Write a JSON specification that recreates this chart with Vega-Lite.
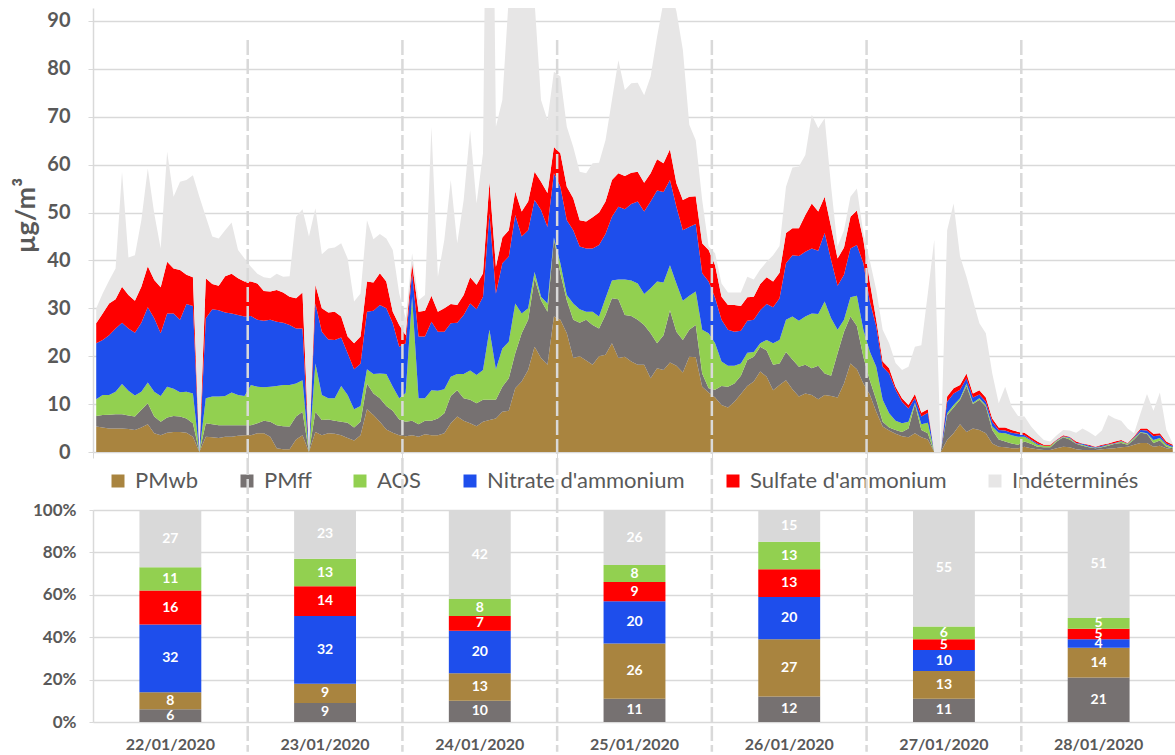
{
"$schema": "https://vega.github.io/schema/vega-lite/v6.json",
"background": "white",
"padding": {"left": 12, "top": 8, "right": 0, "bottom": 0},
"autosize": {"type": "pad"},
"bounds": "flush",
"spacing": 58,
"config": {"font": "Lato", "view": {"stroke": null}},
"datasets": {
"comps": [{"key":"wb","name":"PMwb"},{"key":"ff","name":"PMff"},{"key":"aos","name":"AOS"},{"key":"nit","name":"Nitrate d'ammonium"},{"key":"sul","name":"Sulfate d'ammonium"},{"key":"ind","name":"Indéterminés"}],
"days": [{"h":23.5},{"h":47.5},{"h":71.5},{"h":95.5},{"h":119.5},{"h":143.5}],
"daily": [
{"date":"22/01/2020","ff":6,"wb":8,"nit":32,"sul":16,"aos":11,"ind":27},
{"date":"23/01/2020","ff":9,"wb":9,"nit":32,"sul":14,"aos":13,"ind":23},
{"date":"24/01/2020","ff":10,"wb":13,"nit":20,"sul":7,"aos":8,"ind":42},
{"date":"25/01/2020","ff":11,"wb":26,"nit":20,"sul":9,"aos":8,"ind":26},
{"date":"26/01/2020","ff":12,"wb":27,"nit":20,"sul":13,"aos":13,"ind":15},
{"date":"27/01/2020","ff":11,"wb":13,"nit":10,"sul":5,"aos":6,"ind":55},
{"date":"28/01/2020","ff":21,"wb":14,"nit":4,"sul":5,"aos":5,"ind":51}
],
"hourly": [
{"h":0,"wb":5.3,"ff":2.2,"aos":3.5,"nit":11.7,"sul":4.2,"ind":3.1},
{"h":1,"wb":5.1,"ff":2.6,"aos":4.2,"nit":11.5,"sul":5.5,"ind":4.2},
{"h":2,"wb":4.9,"ff":2.9,"aos":4.1,"nit":12.5,"sul":6.6,"ind":4.8},
{"h":3,"wb":4.9,"ff":3.0,"aos":4.7,"nit":13.2,"sul":6.1,"ind":6.4},
{"h":4,"wb":4.9,"ff":3.0,"aos":6.3,"nit":12.8,"sul":7.5,"ind":24.0},
{"h":5,"wb":4.8,"ff":2.8,"aos":5.2,"nit":13.0,"sul":7.0,"ind":7.8},
{"h":6,"wb":4.6,"ff":2.8,"aos":4.4,"nit":13.1,"sul":6.7,"ind":9.5},
{"h":7,"wb":5.1,"ff":3.7,"aos":3.8,"nit":14.4,"sul":7.5,"ind":13.9},
{"h":8,"wb":5.8,"ff":4.4,"aos":4.3,"nit":15.7,"sul":8.6,"ind":20.4},
{"h":9,"wb":3.9,"ff":3.5,"aos":5.2,"nit":15.3,"sul":8.0,"ind":13.9},
{"h":10,"wb":3.5,"ff":2.8,"aos":5.4,"nit":13.1,"sul":9.6,"ind":8.1},
{"h":11,"wb":4.0,"ff":3.2,"aos":6.4,"nit":15.3,"sul":10.8,"ind":23.0},
{"h":12,"wb":4.2,"ff":3.3,"aos":5.7,"nit":15.7,"sul":9.4,"ind":15.0},
{"h":13,"wb":4.2,"ff":3.2,"aos":5.1,"nit":15.1,"sul":10.4,"ind":18.4},
{"h":14,"wb":4.0,"ff":3.0,"aos":5.6,"nit":18.3,"sul":6.1,"ind":19.8},
{"h":15,"wb":3.2,"ff":2.8,"aos":6.2,"nit":18.3,"sul":6.0,"ind":21.3},
{"h":16,"wb":0,"ff":0,"aos":0,"nit":0,"sul":0,"ind":53.3},
{"h":17,"wb":3.2,"ff":2.8,"aos":5.2,"nit":16.7,"sul":8.4,"ind":12.8},
{"h":18,"wb":3.1,"ff":2.7,"aos":5.8,"nit":18.2,"sul":5.3,"ind":9.9},
{"h":19,"wb":2.9,"ff":2.7,"aos":6.0,"nit":18.0,"sul":5.1,"ind":9.9},
{"h":20,"wb":3.2,"ff":2.4,"aos":6.1,"nit":17.4,"sul":7.6,"ind":9.6},
{"h":21,"wb":3.2,"ff":2.4,"aos":6.8,"nit":16.5,"sul":8.3,"ind":10.7},
{"h":22,"wb":3.4,"ff":2.2,"aos":6.3,"nit":16.7,"sul":7.7,"ind":5.9},
{"h":23,"wb":3.5,"ff":2.1,"aos":6.1,"nit":16.6,"sul":7.3,"ind":4.8},
{"h":24,"wb":3.5,"ff":2.1,"aos":8.4,"nit":14.4,"sul":7.2,"ind":3.1},
{"h":25,"wb":3.9,"ff":2.1,"aos":7.6,"nit":14.0,"sul":7.6,"ind":2.0},
{"h":26,"wb":3.9,"ff":2.6,"aos":7.0,"nit":13.9,"sul":6.2,"ind":2.9},
{"h":27,"wb":3.2,"ff":3.1,"aos":7.3,"nit":14.0,"sul":5.9,"ind":2.8},
{"h":28,"wb":0.8,"ff":4.8,"aos":8.2,"nit":13.4,"sul":6.6,"ind":3.4},
{"h":29,"wb":0.6,"ff":4.8,"aos":8.6,"nit":13.0,"sul":6.3,"ind":3.3},
{"h":30,"wb":0.6,"ff":4.7,"aos":8.7,"nit":12.5,"sul":5.9,"ind":4.3},
{"h":31,"wb":2.6,"ff":4.8,"aos":6.9,"nit":11.5,"sul":6.3,"ind":17.0},
{"h":32,"wb":3.5,"ff":4.9,"aos":6.6,"nit":10.8,"sul":7.5,"ind":17.4},
{"h":33,"wb":0,"ff":0,"aos":0,"nit":0,"sul":0,"ind":45.0},
{"h":34,"wb":4.2,"ff":4.2,"aos":10.1,"nit":12.5,"sul":3.9,"ind":16.0},
{"h":35,"wb":3.5,"ff":3.2,"aos":5.2,"nit":13.2,"sul":4.9,"ind":11.3},
{"h":36,"wb":3.9,"ff":2.9,"aos":4.4,"nit":12.3,"sul":5.6,"ind":13.4},
{"h":37,"wb":3.8,"ff":2.7,"aos":4.7,"nit":12.2,"sul":5.9,"ind":13.4},
{"h":38,"wb":3.5,"ff":2.8,"aos":7.5,"nit":10.1,"sul":4.4,"ind":15.3},
{"h":39,"wb":2.9,"ff":3.2,"aos":5.8,"nit":8.7,"sul":3.5,"ind":16.3},
{"h":40,"wb":2.4,"ff":2.7,"aos":3.8,"nit":8.4,"sul":5.4,"ind":8.7},
{"h":41,"wb":3.5,"ff":2.8,"aos":3.3,"nit":8.8,"sul":5.7,"ind":9.0},
{"h":42,"wb":8.9,"ff":5.4,"aos":3.0,"nit":12.0,"sul":6.3,"ind":12.8},
{"h":43,"wb":7.7,"ff":4.5,"aos":4.1,"nit":13.2,"sul":5.9,"ind":9.0},
{"h":44,"wb":6.3,"ff":4.9,"aos":5.2,"nit":14.3,"sul":6.6,"ind":8.2},
{"h":45,"wb":4.7,"ff":4.9,"aos":6.7,"nit":13.7,"sul":5.6,"ind":9.0},
{"h":46,"wb":4.0,"ff":4.6,"aos":5.0,"nit":13.3,"sul":2.4,"ind":12.9},
{"h":47,"wb":3.5,"ff":3.3,"aos":4.4,"nit":10.8,"sul":4.5,"ind":6.6},
{"h":48,"wb":3.3,"ff":3.0,"aos":6.0,"nit":10.4,"sul":1.7,"ind":3.5},
{"h":49,"wb":3.5,"ff":3.0,"aos":25.9,"nit":4.9,"sul":2.1,"ind":2.1},
{"h":50,"wb":3.2,"ff":2.6,"aos":5.4,"nit":12.9,"sul":5.2,"ind":2.4},
{"h":51,"wb":3.7,"ff":2.8,"aos":4.7,"nit":12.9,"sul":5.4,"ind":3.3},
{"h":52,"wb":3.5,"ff":3.0,"aos":6.4,"nit":14.3,"sul":5.4,"ind":35.3},
{"h":53,"wb":3.5,"ff":3.5,"aos":5.8,"nit":12.3,"sul":4.2,"ind":7.3},
{"h":54,"wb":3.9,"ff":4.2,"aos":5.0,"nit":12.0,"sul":4.9,"ind":14.3},
{"h":55,"wb":6.0,"ff":5.7,"aos":4.0,"nit":11.2,"sul":4.0,"ind":25.9},
{"h":56,"wb":7.4,"ff":5.5,"aos":3.4,"nit":10.7,"sul":3.7,"ind":12.9},
{"h":57,"wb":6.5,"ff":4.7,"aos":5.1,"nit":12.3,"sul":4.2,"ind":19.8},
{"h":58,"wb":6.0,"ff":4.9,"aos":6.1,"nit":14.0,"sul":5.5,"ind":30.7},
{"h":59,"wb":5.4,"ff":4.8,"aos":5.9,"nit":13.7,"sul":5.1,"ind":17.0},
{"h":60,"wb":6.3,"ff":4.6,"aos":6.2,"nit":15.3,"sul":4.9,"ind":25.1},
{"h":61,"wb":6.7,"ff":4.2,"aos":14.6,"nit":24.3,"sul":6.6,"ind":133.6},
{"h":62,"wb":7.0,"ff":3.9,"aos":6.4,"nit":15.8,"sul":5.6,"ind":29.2},
{"h":63,"wb":8.4,"ff":5.2,"aos":8.0,"nit":17.8,"sul":5.4,"ind":28.7},
{"h":64,"wb":8.6,"ff":6.8,"aos":7.6,"nit":17.8,"sul":5.5,"ind":48.7},
{"h":65,"wb":13.3,"ff":7.3,"aos":10.4,"nit":18.5,"sul":4.9,"ind":53.6},
{"h":66,"wb":14.7,"ff":10.1,"aos":4.1,"nit":16.1,"sul":5.2,"ind":61.8},
{"h":67,"wb":17.1,"ff":10.5,"aos":2.4,"nit":16.3,"sul":6.0,"ind":57.7},
{"h":68,"wb":22.0,"ff":14.3,"aos":1.3,"nit":15.0,"sul":5.9,"ind":35.5},
{"h":69,"wb":19.6,"ff":12.1,"aos":0.7,"nit":18.1,"sul":5.9,"ind":17.1},
{"h":70,"wb":18.2,"ff":11.1,"aos":1.7,"nit":16.0,"sul":7.1,"ind":15.2},
{"h":71,"wb":28.3,"ff":16.3,"aos":0.2,"nit":13.4,"sul":5.5,"ind":15.7},
{"h":72,"wb":27.6,"ff":9.7,"aos":2.1,"nit":16.0,"sul":7.0,"ind":16.0},
{"h":73,"wb":24.8,"ff":6.9,"aos":1.1,"nit":15.6,"sul":7.0,"ind":12.5},
{"h":74,"wb":19.6,"ff":8.0,"aos":3.4,"nit":15.3,"sul":6.7,"ind":10.7},
{"h":75,"wb":20.0,"ff":7.0,"aos":2.8,"nit":13.1,"sul":5.5,"ind":10.1},
{"h":76,"wb":19.1,"ff":8.5,"aos":1.7,"nit":13.2,"sul":5.6,"ind":10.1},
{"h":77,"wb":18.2,"ff":8.3,"aos":2.8,"nit":13.2,"sul":6.5,"ind":11.3},
{"h":78,"wb":20.0,"ff":5.8,"aos":2.5,"nit":14.9,"sul":6.8,"ind":10.4},
{"h":79,"wb":20.3,"ff":8.3,"aos":3.5,"nit":13.4,"sul":6.8,"ind":12.8},
{"h":80,"wb":22.7,"ff":9.4,"aos":3.7,"nit":13.3,"sul":7.7,"ind":16.7},
{"h":81,"wb":19.6,"ff":12.3,"aos":4.1,"nit":15.2,"sul":7.0,"ind":23.6},
{"h":82,"wb":19.9,"ff":8.7,"aos":7.4,"nit":14.7,"sul":6.9,"ind":18.0},
{"h":83,"wb":18.9,"ff":9.5,"aos":7.4,"nit":16.0,"sul":6.5,"ind":18.7},
{"h":84,"wb":18.2,"ff":9.4,"aos":7.6,"nit":17.1,"sul":6.2,"ind":18.6},
{"h":85,"wb":18.2,"ff":8.3,"aos":6.5,"nit":17.2,"sul":6.0,"ind":18.3},
{"h":86,"wb":15.4,"ff":9.4,"aos":9.4,"nit":18.1,"sul":5.9,"ind":20.2},
{"h":87,"wb":17.5,"ff":5.2,"aos":12.9,"nit":19.0,"sul":6.5,"ind":25.6},
{"h":88,"wb":17.1,"ff":7.3,"aos":11.0,"nit":18.9,"sul":6.0,"ind":33.7},
{"h":89,"wb":18.7,"ff":10.9,"aos":9.4,"nit":17.8,"sul":6.4,"ind":33.8},
{"h":90,"wb":18.0,"ff":7.1,"aos":10.1,"nit":16.0,"sul":4.9,"ind":35.9},
{"h":91,"wb":16.6,"ff":6.8,"aos":8.2,"nit":14.7,"sul":6.3,"ind":31.4},
{"h":92,"wb":19.9,"ff":5.6,"aos":7.1,"nit":14.4,"sul":6.3,"ind":15.0},
{"h":93,"wb":19.8,"ff":6.7,"aos":7.0,"nit":14.1,"sul":5.8,"ind":11.7},
{"h":94,"wb":13.6,"ff":2.8,"aos":9.1,"nit":11.8,"sul":6.3,"ind":9.0},
{"h":95,"wb":12.4,"ff":0.9,"aos":11.5,"nit":10.8,"sul":6.6,"ind":0.7},
{"h":96,"wb":11.4,"ff":1.6,"aos":9.7,"nit":9.5,"sul":6.8,"ind":2.5},
{"h":97,"wb":9.8,"ff":4.0,"aos":5.1,"nit":8.7,"sul":4.8,"ind":2.8},
{"h":98,"wb":9.3,"ff":4.3,"aos":4.4,"nit":7.5,"sul":5.2,"ind":2.6},
{"h":99,"wb":10.5,"ff":3.8,"aos":3.7,"nit":7.1,"sul":5.6,"ind":2.6},
{"h":100,"wb":12.1,"ff":3.8,"aos":2.6,"nit":6.8,"sul":5.2,"ind":2.8},
{"h":101,"wb":13.8,"ff":5.4,"aos":1.5,"nit":6.7,"sul":4.9,"ind":4.3},
{"h":102,"wb":14.7,"ff":5.2,"aos":1.0,"nit":6.7,"sul":4.8,"ind":3.6},
{"h":103,"wb":16.8,"ff":5.2,"aos":0.7,"nit":6.9,"sul":5.5,"ind":3.0},
{"h":104,"wb":15.7,"ff":5.5,"aos":2.2,"nit":7.5,"sul":5.6,"ind":3.2},
{"h":105,"wb":12.9,"ff":5.3,"aos":4.5,"nit":7.5,"sul":5.4,"ind":5.5},
{"h":106,"wb":14.0,"ff":4.5,"aos":4.9,"nit":8.7,"sul":5.3,"ind":5.6},
{"h":107,"wb":15.0,"ff":5.9,"aos":6.7,"nit":11.8,"sul":6.3,"ind":9.7},
{"h":108,"wb":13.1,"ff":6.2,"aos":9.0,"nit":12.8,"sul":5.6,"ind":12.7},
{"h":109,"wb":11.6,"ff":6.2,"aos":9.6,"nit":13.5,"sul":5.8,"ind":12.9},
{"h":110,"wb":12.2,"ff":6.0,"aos":10.1,"nit":13.5,"sul":7.7,"ind":12.5},
{"h":111,"wb":11.9,"ff":5.6,"aos":11.4,"nit":13.6,"sul":9.4,"ind":18.5},
{"h":112,"wb":11.0,"ff":7.0,"aos":10.8,"nit":13.2,"sul":8.2,"ind":17.4},
{"h":113,"wb":11.9,"ff":4.5,"aos":15.0,"nit":14.3,"sul":7.6,"ind":16.4},
{"h":114,"wb":11.7,"ff":4.2,"aos":12.0,"nit":12.2,"sul":6.9,"ind":8.4},
{"h":115,"wb":11.4,"ff":9.2,"aos":4.9,"nit":9.2,"sul":5.7,"ind":2.5},
{"h":116,"wb":14.3,"ff":10.8,"aos":2.5,"nit":9.4,"sul":5.7,"ind":3.6},
{"h":117,"wb":18.5,"ff":9.8,"aos":4.0,"nit":10.2,"sul":6.6,"ind":4.2},
{"h":118,"wb":17.3,"ff":9.0,"aos":6.3,"nit":10.6,"sul":7.2,"ind":4.6},
{"h":119,"wb":14.3,"ff":5.6,"aos":5.6,"nit":13.9,"sul":4.9,"ind":1.4},
{"h":120,"wb":12.0,"ff":3.0,"aos":6.0,"nit":10.5,"sul":4.0,"ind":4.5},
{"h":121,"wb":8.4,"ff":2.5,"aos":6.9,"nit":8.4,"sul":1.4,"ind":6.2},
{"h":122,"wb":5.3,"ff":1.0,"aos":4.6,"nit":6.9,"sul":1.1,"ind":6.6},
{"h":123,"wb":4.5,"ff":0.6,"aos":3.0,"nit":8.3,"sul":1.1,"ind":5.2},
{"h":124,"wb":3.8,"ff":0.8,"aos":1.9,"nit":6.5,"sul":0.6,"ind":5.0},
{"h":125,"wb":3.3,"ff":0.9,"aos":1.8,"nit":4.5,"sul":0.7,"ind":5.9},
{"h":126,"wb":3.1,"ff":1.8,"aos":1.4,"nit":2.8,"sul":0.7,"ind":8.0},
{"h":127,"wb":3.9,"ff":6.1,"aos":0.3,"nit":0.9,"sul":0.9,"ind":9.9},
{"h":128,"wb":3.1,"ff":1.5,"aos":1.2,"nit":1.6,"sul":0.8,"ind":14.1},
{"h":129,"wb":2.6,"ff":1.3,"aos":2.2,"nit":2.1,"sul":0.7,"ind":24.2},
{"h":130,"wb":0,"ff":0,"aos":0,"nit":0,"sul":0,"ind":44.3},
{"h":131,"wb":0,"ff":0,"aos":0,"nit":0,"sul":0,"ind":0},
{"h":132,"wb":2.5,"ff":5.2,"aos":0.4,"nit":2.4,"sul":1.1,"ind":34.7},
{"h":133,"wb":3.9,"ff":5.4,"aos":0.5,"nit":2.4,"sul":1.1,"ind":38.6},
{"h":134,"wb":5.8,"ff":5.1,"aos":0.3,"nit":1.8,"sul":1.0,"ind":26.8},
{"h":135,"wb":4.2,"ff":9.6,"aos":0.5,"nit":1.1,"sul":1.0,"ind":20.2},
{"h":136,"wb":4.9,"ff":5.1,"aos":0.3,"nit":1.1,"sul":0.8,"ind":19.5},
{"h":137,"wb":4.6,"ff":6.3,"aos":0.3,"nit":0.8,"sul":0.9,"ind":14.0},
{"h":138,"wb":3.9,"ff":5.6,"aos":0.3,"nit":0.7,"sul":0.9,"ind":13.4},
{"h":139,"wb":1.8,"ff":2.8,"aos":0.7,"nit":1.0,"sul":0.7,"ind":9.4},
{"h":140,"wb":1.1,"ff":1.5,"aos":1.4,"nit":0.6,"sul":0.5,"ind":5.1},
{"h":141,"wb":1.0,"ff":1.2,"aos":1.7,"nit":0.6,"sul":0.6,"ind":8.5},
{"h":142,"wb":0.8,"ff":1.0,"aos":1.7,"nit":0.5,"sul":0.6,"ind":4.9},
{"h":143,"wb":0.8,"ff":0.7,"aos":1.7,"nit":0.6,"sul":0.4,"ind":3.3},
{"h":144,"wb":1.1,"ff":1.1,"aos":1.0,"nit":0.3,"sul":0.5,"ind":3.4},
{"h":145,"wb":0.8,"ff":0.9,"aos":0.7,"nit":0.2,"sul":0.5,"ind":2.3},
{"h":146,"wb":0.6,"ff":0.5,"aos":0.4,"nit":0.3,"sul":0.4,"ind":1.6},
{"h":147,"wb":0.4,"ff":0.6,"aos":0.3,"nit":0.0,"sul":0.2,"ind":1.0},
{"h":148,"wb":0.4,"ff":0.6,"aos":0.3,"nit":0.0,"sul":0.2,"ind":0.7},
{"h":149,"wb":0.8,"ff":1.4,"aos":0.2,"nit":0.1,"sul":0.1,"ind":0.9},
{"h":150,"wb":1.1,"ff":2.0,"aos":0.1,"nit":0.1,"sul":0.2,"ind":1.1},
{"h":151,"wb":1.0,"ff":1.6,"aos":0.3,"nit":0.2,"sul":0.1,"ind":1.3},
{"h":152,"wb":0.6,"ff":1.1,"aos":0.1,"nit":0.1,"sul":0.3,"ind":1.8},
{"h":153,"wb":0.4,"ff":0.9,"aos":0.2,"nit":0.2,"sul":0.1,"ind":3.1},
{"h":154,"wb":0.4,"ff":0.6,"aos":0.1,"nit":0.2,"sul":0.2,"ind":2.7},
{"h":155,"wb":0.4,"ff":0.4,"aos":0.1,"nit":0.1,"sul":0.1,"ind":2.2},
{"h":156,"wb":0.6,"ff":0.4,"aos":0.1,"nit":0.2,"sul":0.2,"ind":3.0},
{"h":157,"wb":0.7,"ff":0.6,"aos":0.2,"nit":0.1,"sul":0.2,"ind":5.9},
{"h":158,"wb":0.8,"ff":0.9,"aos":0.1,"nit":0.1,"sul":0.3,"ind":4.8},
{"h":159,"wb":1.0,"ff":0.9,"aos":0.3,"nit":0.1,"sul":0.2,"ind":4.0},
{"h":160,"wb":1.1,"ff":0.4,"aos":0.2,"nit":0.1,"sul":0.1,"ind":3.0},
{"h":161,"wb":1.5,"ff":1.1,"aos":0.3,"nit":0.2,"sul":0.2,"ind":0.6},
{"h":162,"wb":1.9,"ff":2.1,"aos":0.2,"nit":0.4,"sul":0.3,"ind":3.2},
{"h":163,"wb":1.9,"ff":1.9,"aos":0.1,"nit":0.6,"sul":0.4,"ind":7.2},
{"h":164,"wb":1.1,"ff":0.8,"aos":0.6,"nit":0.8,"sul":0.5,"ind":4.8},
{"h":165,"wb":1.3,"ff":1.1,"aos":0.5,"nit":0.6,"sul":0.4,"ind":8.5},
{"h":166,"wb":0.8,"ff":0.3,"aos":0.4,"nit":0.3,"sul":0.4,"ind":2.4},
{"h":167,"wb":0.6,"ff":0.2,"aos":0.2,"nit":0.3,"sul":0.2,"ind":0.3}
]
},
"vconcat": [
{
"width": 1083, "height": 444,
"layer": [
{
"data": {"name": "hourly"},
"transform": [
{"fold": ["wb","ff","aos","nit","sul","ind"], "as": ["key","v"]},
{"lookup": "key", "from": {"data": {"name": "comps"}, "key": "key", "fields": ["name"]}},
{"stack": "v", "groupby": ["h"], "as": ["y0","y1"]}
],
"mark": {"type": "area", "clip": true, "interpolate": "linear", "opacity": 1},
"encoding": {
"x": {"field": "h", "type": "quantitative", "scale": {"domain": [-0.5, 167.5], "nice": false, "zero": false},
 "axis": {"values": [-0.5,23.5,47.5,71.5,95.5,119.5,143.5,167.5], "labels": false, "title": null, "grid": false, "tickSize": 6, "tickColor": "#D9D9D9", "domainColor": "#D9D9D9", "domainWidth": 1.5}},
"y": {"field": "y1", "type": "quantitative", "scale": {"domain": [0, 92.7], "nice": false},
 "axis": {"values": [0,5,10,15,20,25,30,35,40,45,50,55,60,65,70,75,80,85,90], "labelExpr": "datum.value % 10 === 0 ? datum.label : ''", "labelOverlap": false,
  "title": "µg/m³", "titleFont": "Lato", "titleFontSize": 27, "titleFontWeight": "bold", "titleColor": "#595959", "titlePadding": 6, "titleY": 207,
  "labelFont": "Lato", "labelFontSize": 20, "labelFontWeight": "bold", "labelColor": "#595959", "labelPadding": 18,
  "tickSize": 5, "tickColor": "#D9D9D9", "domainColor": "#D9D9D9", "domainWidth": 1.5,
  "grid": true, "gridColor": "#D9D9D9", "gridWidth": 1.3,
  "gridOpacity": {"condition": {"test": "datum.value % 10 === 0 && datum.value > 0", "value": 1}, "value": 0}}},
"y2": {"field": "y0"},
"color": {"field": "name", "type": "nominal",
 "scale": {"domain": ["PMwb","PMff","AOS","Nitrate d'ammonium","Sulfate d'ammonium","Indéterminés"], "range": ["#A9843F","#767171","#92D050","#1E4EEC","#FF0000","#E7E6E6"]},
 "legend": {"orient": "none", "legendX": 14, "legendY": 462, "direction": "horizontal", "columns": 6, "title": null,
  "symbolType": "square", "symbolSize": 169, "symbolStrokeWidth": 0, "symbolOpacity": 1,
  "labelFont": "Lato", "labelFontSize": 22, "labelColor": "#595959", "labelOffset": 6, "columnPadding": 37, "labelLimit": 400}}
}
},
{
"data": {"name": "days"},
"mark": {"type": "rule", "strokeDash": [15, 4], "strokeWidth": 2.5, "color": "#D9D9D9"},
"encoding": {
"x": {"field": "h", "type": "quantitative", "scale": {"domain": [-0.5, 167.5], "nice": false, "zero": false}},
"y": {"datum": 86, "type": "quantitative", "scale": {"domain": [0, 92.7], "nice": false}},
"y2": {"datum": -1.7}
}
}
]
},
{
"width": 1083, "height": 212,
"layer": [
{
"data": {"name": "daily"},
"transform": [
{"fold": ["ff","wb","nit","sul","aos","ind"], "as": ["key","v"]},
{"lookup": "key", "from": {"data": {"name": "comps"}, "key": "key", "fields": ["name"]}},
{"stack": "v", "groupby": ["date"], "as": ["y0","y1"]}
],
"layer": [
{
"mark": {"type": "bar"},
"encoding": {
"x": {"field": "date", "type": "nominal", "scale": {"paddingInner": 0.6, "paddingOuter": 0.3},
 "axis": {"title": null, "labelAngle": 0, "labelFont": "Lato", "labelFontSize": 16, "labelFontWeight": "bold", "labelColor": "#595959", "labelPadding": 14, "ticks": false, "domainColor": "#D9D9D9", "domainWidth": 1.5}},
"y": {"field": "y1", "type": "quantitative", "scale": {"domain": [0, 100], "nice": false},
 "axis": {"values": [0,5,10,15,20,25,30,35,40,45,50,55,60,65,70,75,80,85,90,95,100], "labelExpr": "datum.value % 20 === 0 ? datum.value + '%' : ''", "labelOverlap": false, "title": null,
  "labelFont": "Lato", "labelFontSize": 17, "labelFontWeight": "bold", "labelColor": "#595959", "labelPadding": 13,
  "tickSize": 4, "tickColor": "#D9D9D9", "domainColor": "#D9D9D9", "domainWidth": 1.5,
  "grid": true, "gridColor": "#D9D9D9", "gridWidth": 1.3,
  "gridOpacity": {"condition": {"test": "datum.value % 20 === 0 && datum.value > 0", "value": 1}, "value": 0}}},
"y2": {"field": "y0"},
"color": {"field": "name", "type": "nominal",
 "scale": {"domain": ["PMwb","PMff","AOS","Nitrate d'ammonium","Sulfate d'ammonium","Indéterminés"], "range": ["#A9843F","#767171","#92D050","#1E4EEC","#FF0000","#D9D9D9"]},
 "legend": null}
}
},
{
"transform": [
{"fold": ["y0","y1"], "as": ["edge","ev"]},
{"aggregate": [{"op": "mean", "field": "ev", "as": "mid"}], "groupby": ["date","name","v"]}
],
"mark": {"type": "text", "color": "white", "font": "Lato", "fontWeight": "bold", "fontSize": 14},
"encoding": {
"x": {"field": "date", "type": "nominal"},
"y": {"field": "mid", "type": "quantitative"},
"text": {"field": "v", "type": "quantitative"}
}
}
]
},
{
"data": {"name": "days"},
"mark": {"type": "rule", "strokeDash": [15, 4], "strokeWidth": 2.5, "color": "#D9D9D9"},
"encoding": {
"x": {"field": "h", "type": "quantitative", "scale": {"domain": [-0.5, 167.5], "nice": false, "zero": false}, "axis": null},
"y": {"datum": 123.6, "type": "quantitative", "scale": {"domain": [0, 100], "nice": false}},
"y2": {"datum": -14}
}
}
],
"resolve": {"scale": {"x": "independent"}}
}
],
"resolve": {"scale": {"color": "independent"}}
}
